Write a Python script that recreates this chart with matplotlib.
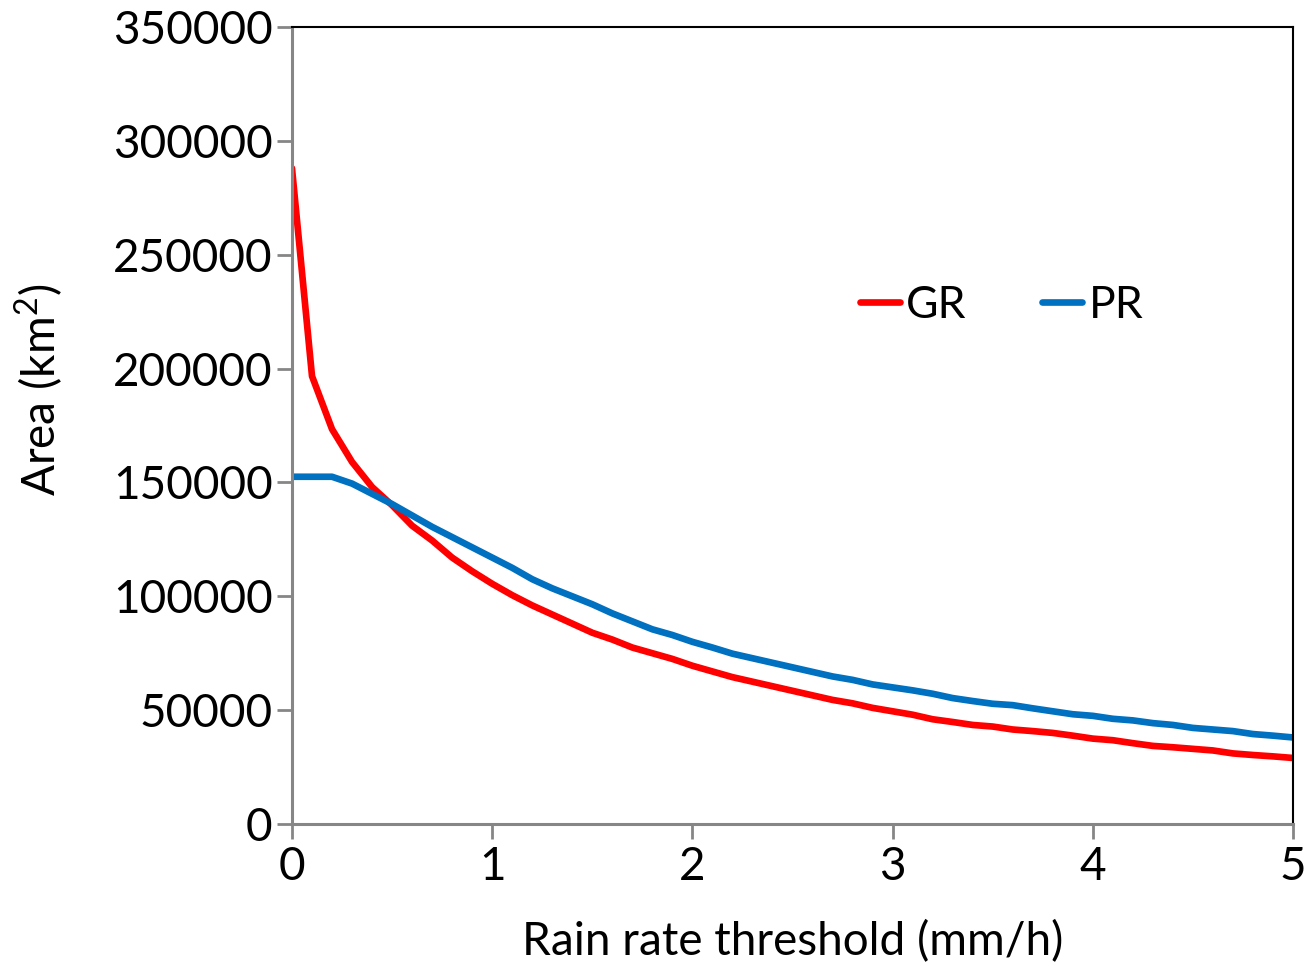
import numpy as np
import matplotlib
matplotlib.use("Agg")
import matplotlib.pyplot as plt

plt.rcParams['font.family'] = ['Lato', 'DejaVu Sans']
plt.rcParams['mathtext.fontset'] = 'custom'
plt.rcParams['mathtext.rm'] = 'Lato'

#%% Data
threshold = np.round(np.arange(0, 5.01, 0.1), 1)

area_gr = [288000, 196700, 173400, 159000, 148000, 140000, 131000, 124500, 117000, 111000,
           105500, 100500, 96000, 92000, 88000, 84000, 81000, 77500, 75000, 72500,
           69500, 67000, 64500, 62500, 60500, 58500, 56500, 54500, 53000, 51000,
           49500, 48000, 46000, 44800, 43500, 42800, 41500, 40800, 40000, 38800,
           37500, 36800, 35500, 34300, 33700, 33000, 32300, 31000, 30300, 29700,
           29000]

area_pr = [152500, 152500, 152500, 149500, 145000, 140500, 135500, 130500, 126000, 121500,
           117000, 112500, 107500, 103500, 100000, 96500, 92500, 89000, 85500, 83000,
           80000, 77500, 74800, 72800, 70800, 68800, 66800, 64800, 63300, 61300,
           60000, 58700, 57200, 55300, 54000, 52800, 52200, 50800, 49500, 48200,
           47500, 46200, 45500, 44300, 43500, 42200, 41500, 40800, 39500, 38800,
           38000]

x_ticks = [0, 1, 2, 3, 4, 5]
y_ticks = np.arange(0, 350001, 50000)

#%% Plot
fig = plt.figure(figsize=(13.07, 9.66), dpi=100)
ax = fig.add_axes([0.2234, 0.147, 0.7659, 0.825])

ax.plot(threshold, area_gr, c='#FF0000', linewidth=4.8, label='GR', solid_capstyle='round')
ax.plot(threshold, area_pr, c='#0070C0', linewidth=4.8, label='PR', solid_capstyle='round')

ax.set_xlim(0, 5)
ax.set_ylim(0, 350000)
ax.set_xticks(x_ticks)
ax.set_yticks(y_ticks)
ax.set_yticklabels(['{:d}'.format(int(v)) for v in y_ticks])

ax.tick_params(axis='both', direction='out', length=11, width=2, color='#868686',
               labelsize=33)
ax.tick_params(axis='y', pad=3)
ax.tick_params(axis='x', pad=5)
for side in ['left', 'bottom']:
    ax.spines[side].set_color('#868686')
    ax.spines[side].set_linewidth(2.2)
for side in ['top', 'right']:
    ax.spines[side].set_color('black')
    ax.spines[side].set_linewidth(1.5)

ax.set_xlabel('Rain rate threshold (mm/h)', fontsize=33, va='center')
ax.xaxis.set_label_coords(0.5, -0.148)
ax.set_ylabel('Area (km$^2$)', fontsize=33, va='center')
ax.yaxis.set_label_coords(-0.252, 0.545)

ax.legend(loc='center', bbox_to_anchor=(0.709, 0.651), ncol=2, frameon=False,
          fontsize=32, handlelength=0.9, handletextpad=0.15, columnspacing=1.7)

plt.savefig('out.png', dpi=100)
